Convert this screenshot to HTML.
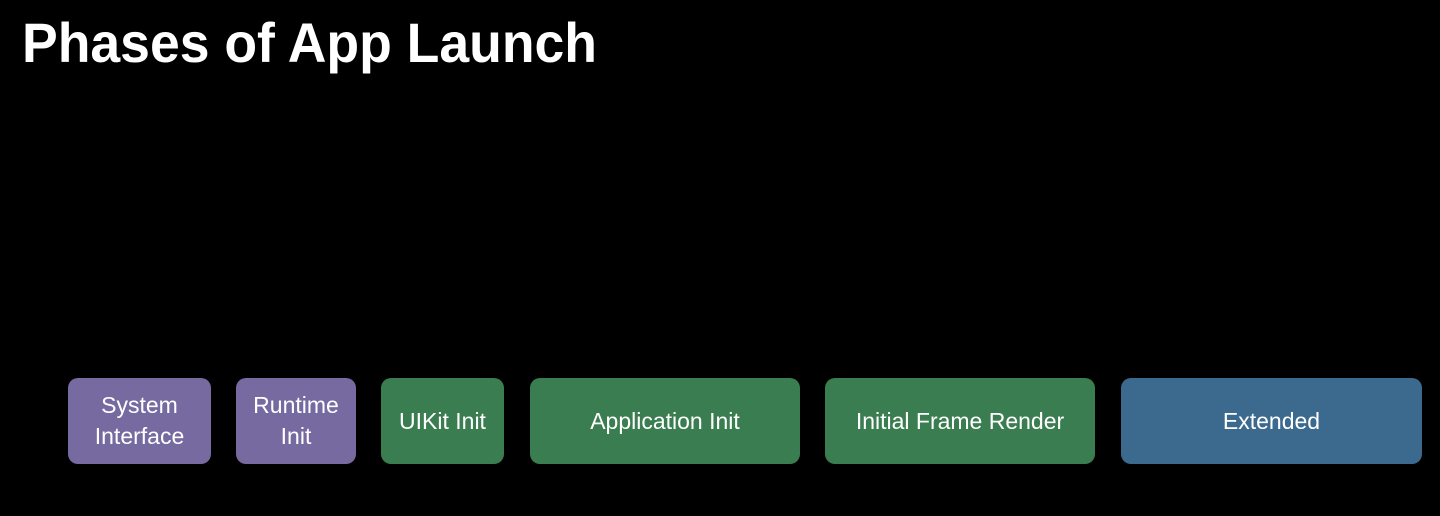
<!DOCTYPE html>
<html><head><style>
html,body{margin:0;padding:0;background:#000;width:1440px;height:516px;overflow:hidden}
.b{position:absolute;top:378px;height:86px;border-radius:10px;display:flex;align-items:center;justify-content:center;text-align:center;color:#fff;font:23px/31px "Liberation Sans",sans-serif}
.p{background:#776aa0}.g{background:#3a7d50}.x{background:#3c6a8e}
</style></head><body>
<svg width="1440" height="100" style="position:absolute;left:0;top:0">
<text x="22" y="62" fill="#fff" font-family="Liberation Sans, sans-serif" font-weight="bold" font-size="56" textLength="575" lengthAdjust="spacingAndGlyphs">Phases of App Launch</text>
</svg>
<div class="b p" style="left:68px;width:143px">System<br>Interface</div>
<div class="b p" style="left:236px;width:120px">Runtime<br>Init</div>
<div class="b g" style="left:381px;width:123px">UIKit Init</div>
<div class="b g" style="left:530px;width:270px">Application Init</div>
<div class="b g" style="left:825px;width:270px">Initial Frame Render</div>
<div class="b x" style="left:1121px;width:301px">Extended</div>
</body></html>
